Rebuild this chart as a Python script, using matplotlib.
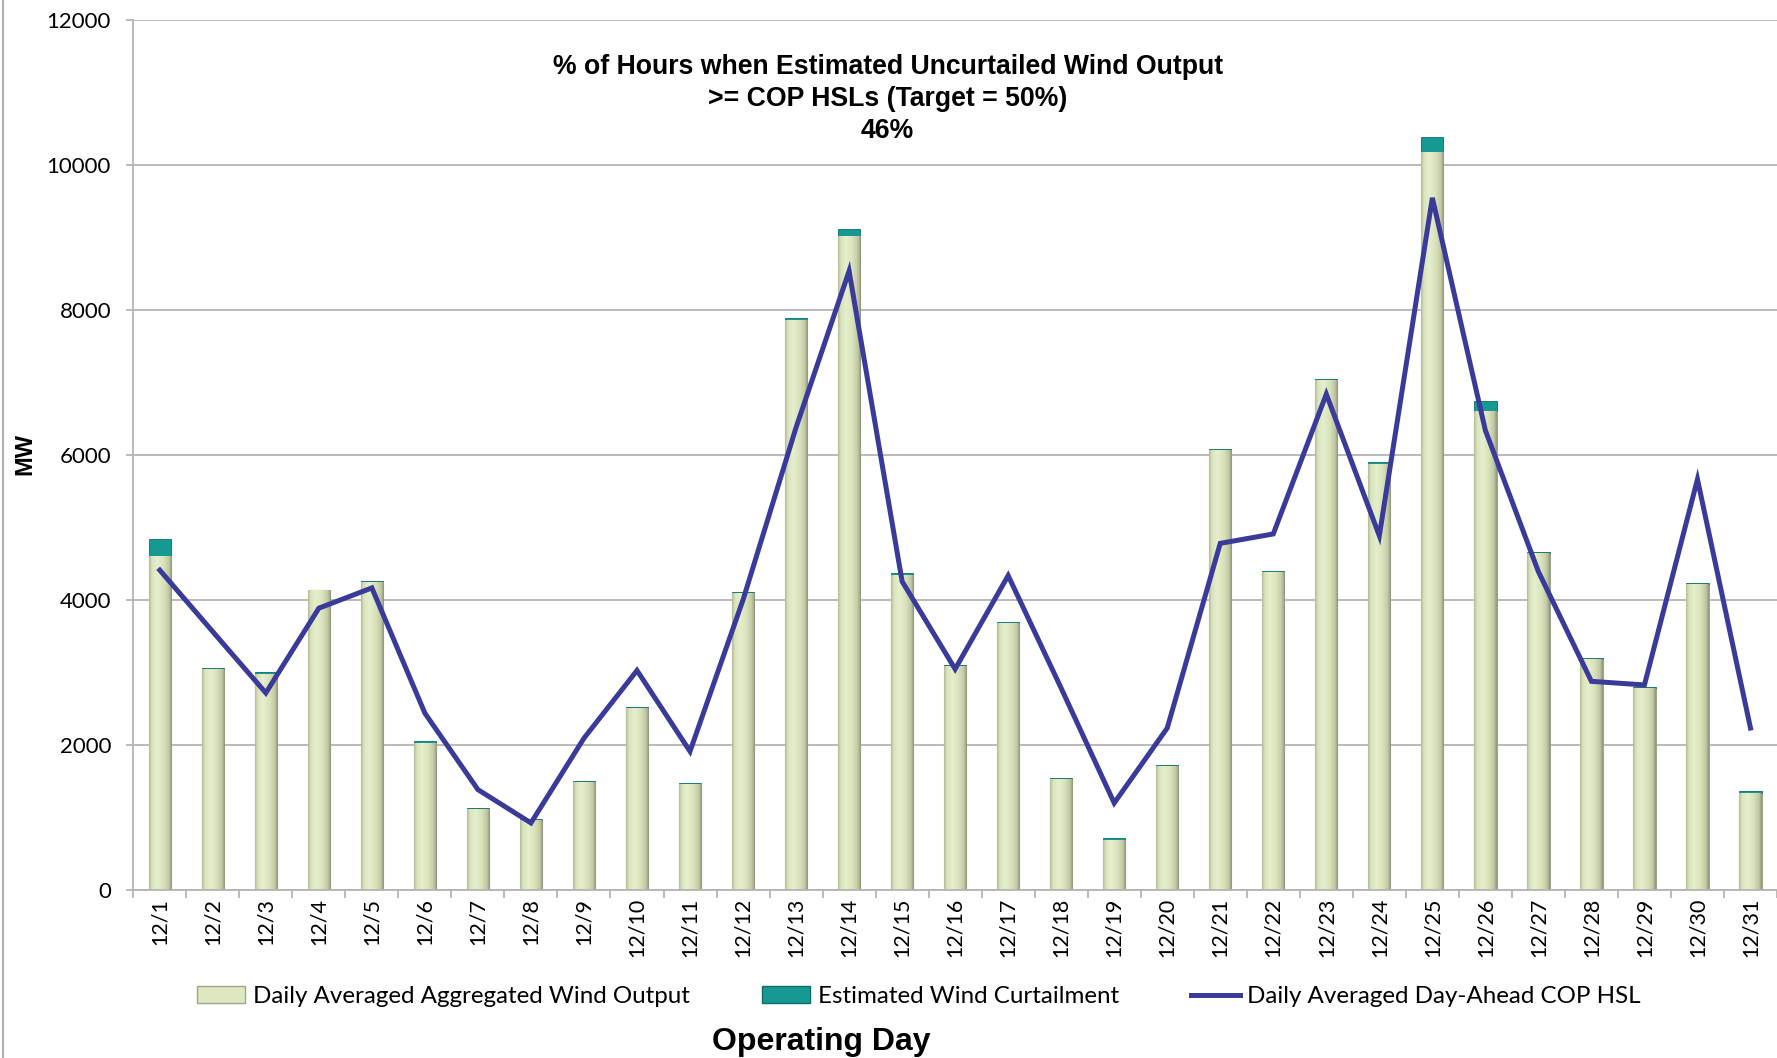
import numpy as np
import matplotlib
matplotlib.use("Agg")
import matplotlib.pyplot as plt
from matplotlib.patches import Patch
from matplotlib.lines import Line2D
from matplotlib.colors import LinearSegmentedColormap

# data (MW)
days = ["12/%d" % d for d in range(1, 32)]
wind_output = [4610, 3040, 2980, 4140, 4240, 2030, 1110, 960, 1490, 2510,
               1460, 4090, 7870, 9030, 4350, 3090, 3680, 1520, 680, 1700,
               6070, 4390, 7030, 5880, 10190, 6610, 4650, 3180, 2780, 4220, 1340]
curtailment = [225, 25, 20, 0, 20, 15, 15, 10, 15, 15,
               15, 20, 20, 95, 20, 15, 15, 15, 30, 15,
               15, 15, 20, 20, 200, 140, 15, 15, 15, 15, 15]
cop_hsl = [4410, 3560, 2715, 3885, 4165, 2435, 1380, 920, 2090, 3025,
           1908, 4000, 6380, 8540, 4255, 3045, 4335, 2780, 1195, 2230,
           4780, 4910, 6840, 4885, 9550, 6340, 4390, 2875, 2825, 5665, 2230]

title_lines = ["% of Hours when Estimated Uncurtailed Wind Output",
               ">= COP HSLs (Target = 50%)",
               "46%"]
legend_labels = ["Daily Averaged Aggregated Wind Output",
                 "Estimated Wind Curtailment",
                 "Daily Averaged Day-Ahead COP HSL"]

green = "#dde8c0"
teal = "#169893"
navy = "#3a3a9a"
grid_c = "#b4b4b4"

fig = plt.figure(figsize=(17.77, 10.58), dpi=100)
ax = fig.add_axes([0.075, 0.1592, 0.925, 0.8215])

x = np.arange(len(days))
bw = 0.42
bars = ax.bar(x, wind_output, width=bw, color=green, edgecolor="#9ea78a",
              linewidth=0.8, zorder=2)
ax.bar(x, curtailment, width=bw, bottom=wind_output, color=teal,
       edgecolor="#0c6d6a", linewidth=0.6, zorder=2)

# cylinder-ish shading on the green bars
shade = LinearSegmentedColormap.from_list(
    "shade", [(0, "#b3bb98"), (0.12, "#d9e4bd"), (0.35, "#e5efcd"),
              (0.65, "#d8e2b9"), (0.88, "#bfc7a3"), (1, "#8f957a")])
grad = np.linspace(0, 1, 64).reshape(1, -1)
for r in bars:
    x0, w, h = r.get_x(), r.get_width(), r.get_height()
    im = ax.imshow(grad, extent=[x0, x0 + w, 0, h], aspect="auto",
                   cmap=shade, zorder=2.1, interpolation="bilinear")
    im.set_clip_path(r)

ax.plot(x, cop_hsl, color=navy, linewidth=3.6, zorder=4,
        solid_joinstyle="miter")

ax.set_xlim(-0.5, len(days) - 0.5)
ax.set_ylim(0, 12000)
ax.set_yticks(range(0, 12001, 2000))
ax.yaxis.grid(True, color=grid_c, linewidth=1.3, zorder=0)
ax.set_axisbelow(True)
for s in ["top", "right"]:
    ax.spines[s].set_visible(False)
ax.spines["left"].set_color(grid_c)
ax.spines["bottom"].set_color(grid_c)
ax.spines["left"].set_linewidth(1.3)
ax.spines["bottom"].set_linewidth(1.3)

ax.set_xticks(x)
ax.set_xticklabels(days, rotation=90, fontsize=15.5, family="Lato")
ax.set_xticks(np.arange(-0.5, len(days), 1), minor=True)
ax.tick_params(axis="x", which="major", length=0, pad=6)
ax.tick_params(axis="x", which="minor", length=6, color=grid_c, width=1.3)
ax.tick_params(axis="y", length=5, color=grid_c, width=1.3, pad=11,
               labelsize=16)
for t in ax.get_yticklabels():
    t.set_family("Lato")

for i, line in enumerate(title_lines):
    fig.text(0.4995, 0.9365 - i * 0.0300, line, ha="center", va="center",
             fontsize=19.2, fontweight="bold", family="Liberation Sans")

fig.text(0.014, 0.571, "MW", rotation=90, ha="center", va="center",
         fontsize=17, fontweight="bold", family="Liberation Sans")
fig.text(0.462, 0.0155, "Operating Day", ha="center", va="center",
         fontsize=23, fontweight="bold", family="Liberation Sans")

handles = [Patch(facecolor=green, edgecolor="#9ea78a"),
           Patch(facecolor=teal, edgecolor="#0c6d6a"),
           Line2D([], [], color=navy, linewidth=3.6)]
fig.legend(handles, legend_labels, loc="center", bbox_to_anchor=(0.517, 0.058),
           ncol=3, frameon=False, handlelength=2.0, handletextpad=0.3,
           columnspacing=3.0, prop={"family": "Lato", "size": 17.4})

# outer chart-area border on the left
fig.add_artist(Line2D([0.0017, 0.0017], [0, 1], transform=fig.transFigure,
                      color="#a0a0a0", linewidth=1.2))

fig.savefig("out.png", dpi=100)
